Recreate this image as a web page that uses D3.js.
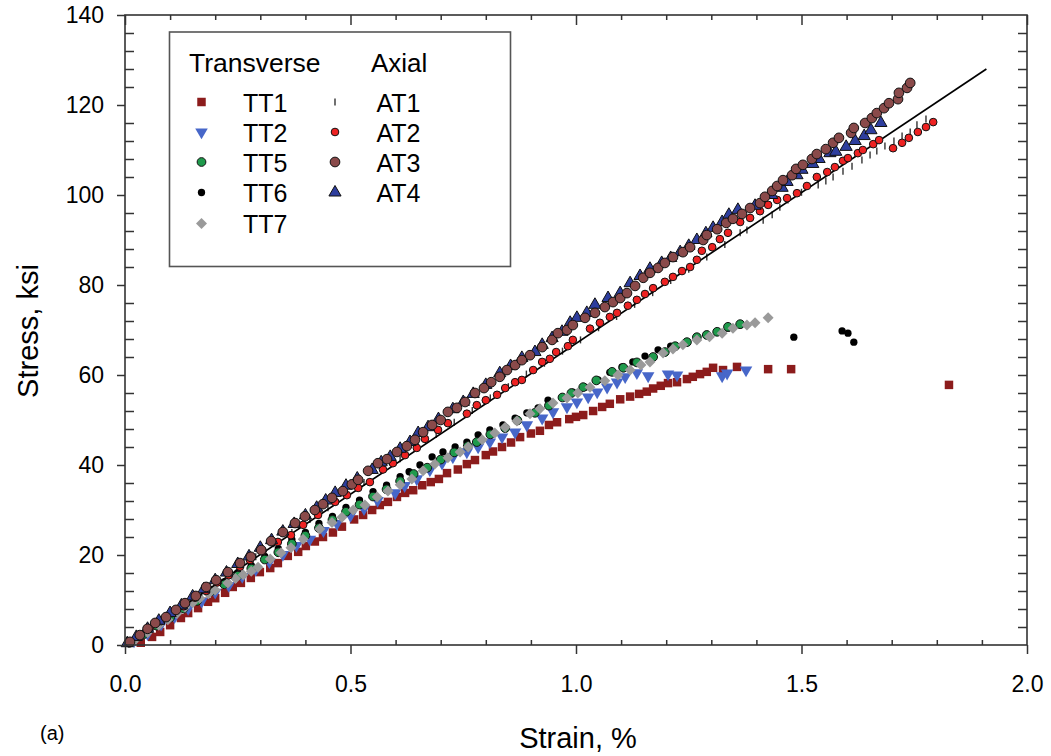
<!DOCTYPE html>
<html><head><meta charset="utf-8">
<script src="https://cdn.jsdelivr.net/npm/d3@7/dist/d3.min.js"></script>
<style>body{margin:0;background:#fff} svg{display:block} text{font-family:"Liberation Sans",Arial,Helvetica,sans-serif;fill:#000}</style>
</head><body><svg id="c" width="1051" height="756"></svg>
<script>
// ---- data: [strain %, stress ksi] ----
const TT1 = [[0.035,0.5],[0.06,1.8],[0.078,2.9],[0.10,4.4],[0.124,6.0],[0.14,7.1],[0.162,8.2],[0.184,9.6],[0.20,10.4],[0.222,11.6],[0.239,12.9],[0.257,13.8],[0.279,14.9],[0.299,16.2],[0.322,17.1],[0.339,18.2],[0.361,19.8],[0.384,20.7],[0.401,22.0],[0.421,23.0],[0.439,24.0],[0.461,25.0],[0.481,26.3],[0.508,27.9],[0.528,28.9],[0.548,30.0],[0.565,31.1],[0.583,31.8],[0.603,32.9],[0.621,33.8],[0.639,34.4],[0.659,35.5],[0.678,36.2],[0.696,36.9],[0.714,38.2],[0.738,39.0],[0.758,40.2],[0.776,41.1],[0.800,42.2],[0.816,43.0],[0.836,44.0],[0.856,45.0],[0.876,46.2],[0.900,47.0],[0.920,47.6],[0.940,48.9],[0.958,49.5],[0.985,50.2],[1.0,50.7],[1.016,51.1],[1.038,52.0],[1.058,52.9],[1.075,53.6],[1.098,54.6],[1.120,55.2],[1.140,55.8],[1.157,56.3],[1.171,57.0],[1.188,57.6],[1.204,58.2],[1.224,58.4],[1.246,59.1],[1.259,59.6],[1.275,60.2],[1.290,60.7],[1.304,61.6],[1.326,61.1],[1.357,61.8],[1.426,61.3],[1.477,61.3],[1.827,57.8]];
const TT2 = [[0.02,0.9],[0.05,2.5],[0.08,4.6],[0.11,6.3],[0.14,8.1],[0.17,9.7],[0.20,11.7],[0.23,13.2],[0.26,15.2],[0.29,16.8],[0.32,18.5],[0.35,20.1],[0.38,22.1],[0.41,23.5],[0.44,25.4],[0.47,27.0],[0.50,28.8],[0.53,30.3],[0.56,32.1],[0.599,33.8],[0.62,35.4],[0.647,36.9],[0.676,38.9],[0.703,40.4],[0.727,41.8],[0.758,42.9],[0.783,44.0],[0.809,45.1],[0.836,46.2],[0.865,47.3],[0.891,48.9],[0.925,50.4],[0.949,51.8],[0.98,52.9],[1.002,54.0],[1.027,55.1],[1.047,56.2],[1.069,57.3],[1.091,58.4],[1.109,59.6],[1.135,60.5],[1.160,59.8],[1.204,60.2],[1.224,60.0],[1.324,59.8],[1.335,60.4],[1.377,61.1]];
const TT5 = [[0.01,0.5],[0.04,2.3],[0.07,4.3],[0.10,6.1],[0.13,8.1],[0.16,9.8],[0.19,11.9],[0.22,13.5],[0.25,15.4],[0.28,17.0],[0.31,19.0],[0.34,20.6],[0.37,22.5],[0.40,24.3],[0.43,26.0],[0.46,27.8],[0.49,29.6],[0.52,31.2],[0.55,33.0],[0.58,34.6],[0.61,36.4],[0.64,38.0],[0.670,39.4],[0.70,41.2],[0.73,42.8],[0.76,44.2],[0.780,45.1],[0.81,46.8],[0.843,48.2],[0.87,49.9],[0.909,51.6],[0.94,53.2],[0.97,55.0],[0.99,56.0],[1.016,57.3],[1.045,58.8],[1.080,60.7],[1.105,61.6],[1.135,62.8],[1.171,64.0],[1.197,65.1],[1.220,66.4],[1.246,67.3],[1.268,68.4],[1.290,68.9],[1.313,69.6],[1.337,70.7],[1.364,71.3]];
const TT6 = [[0.01,0.6],[0.04,2.5],[0.07,4.6],[0.10,6.4],[0.13,8.5],[0.16,10.2],[0.19,12.3],[0.22,14.0],[0.25,16.1],[0.28,17.7],[0.31,19.7],[0.34,21.4],[0.37,23.4],[0.40,25.0],[0.43,27.0],[0.46,28.6],[0.49,30.6],[0.52,32.2],[0.55,34.1],[0.58,35.5],[0.61,37.4],[0.63,38.5],[0.654,40.0],[0.681,41.8],[0.705,42.9],[0.732,44.0],[0.758,45.1],[0.783,46.7],[0.809,47.8],[0.838,48.9],[0.865,50.4],[0.891,51.6],[0.916,52.7],[0.938,54.4],[0.969,55.1],[0.993,56.2],[1.020,57.3],[1.049,58.9],[1.075,60.6],[1.102,61.8],[1.126,62.9],[1.153,64.2],[1.182,65.6],[1.210,66.4],[1.246,67.3],[1.268,68.0],[1.290,68.9],[1.313,69.6],[1.337,70.4],[1.364,71.1],[1.483,68.4],[1.590,69.8],[1.603,69.3],[1.616,67.3]];
const TT7 = [[0.02,0.9],[0.05,2.8],[0.075,4.4],[0.095,5.6],[0.115,7.0],[0.133,8.4],[0.150,9.4],[0.166,10.4],[0.185,11.4],[0.20,12.2],[0.228,13.8],[0.245,14.8],[0.262,15.6],[0.280,16.4],[0.295,17.3],[0.322,19.1],[0.346,20.5],[0.368,21.6],[0.395,23.5],[0.432,25.8],[0.459,27.2],[0.481,28.4],[0.506,30.0],[0.532,31.1],[0.559,32.9],[0.583,34.2],[0.610,35.6],[0.636,36.9],[0.661,38.7],[0.687,40.2],[0.716,41.6],[0.743,42.9],[0.761,44.0],[0.792,45.6],[0.820,47.1],[0.843,48.4],[0.869,49.8],[0.898,51.4],[0.920,52.5],[0.949,53.8],[0.980,54.9],[1.004,56.0],[1.031,57.3],[1.064,58.7],[1.093,60.0],[1.120,61.1],[1.144,62.2],[1.164,62.9],[1.193,64.9],[1.215,65.8],[1.237,66.7],[1.268,67.8],[1.296,68.5],[1.324,69.3],[1.348,70.4],[1.379,71.1],[1.397,71.6],[1.426,72.7]];
const AT1 = [[0.01,0.6],[0.05,3.3],[0.09,6.2],[0.13,8.7],[0.17,11.7],[0.21,14.2],[0.25,17.1],[0.29,19.6],[0.33,22.5],[0.37,25.0],[0.41,27.9],[0.45,30.5],[0.49,33.4],[0.53,36.1],[0.57,38.9],[0.61,41.4],[0.65,44.2],[0.69,46.8],[0.73,49.5],[0.77,52.1],[0.81,54.9],[0.85,57.4],[0.89,60.2],[0.93,62.6],[0.97,65.3],[1.01,67.8],[1.05,70.5],[1.09,73.0],[1.13,75.7],[1.17,78.3],[1.21,81.0],[1.25,83.5],[1.29,86.2],[1.33,89.0],[1.364,91.6],[1.379,92.2],[1.415,94.4],[1.435,95.6],[1.452,97.3],[1.470,98.9],[1.50,100.6],[1.537,102.2],[1.554,103.1],[1.570,104.0],[1.592,105.3],[1.612,106.4],[1.634,107.8],[1.652,108.9],[1.667,109.8],[1.685,110.9],[1.705,112.0],[1.723,113.1],[1.741,114.0],[1.756,115.6],[1.776,116.9]];
const AT2 = [[0.008,0.4],[0.03,1.8],[0.055,3.7],[0.08,5.3],[0.105,7.1],[0.13,8.6],[0.155,10.5],[0.18,12.0],[0.205,13.9],[0.23,15.5],[0.255,17.4],[0.277,18.9],[0.305,20.9],[0.339,22.9],[0.368,24.4],[0.395,26.7],[0.428,28.9],[0.466,31.8],[0.492,33.3],[0.517,34.9],[0.543,36.2],[0.572,39.0],[0.594,40.4],[0.621,42.2],[0.647,43.8],[0.665,45.8],[0.694,47.8],[0.716,49.3],[0.758,51.4],[0.780,53.3],[0.800,54.4],[0.825,55.6],[0.843,57.1],[0.865,58.4],[0.880,58.9],[0.905,61.1],[0.925,62.9],[0.942,63.6],[0.956,65.1],[0.982,66.4],[0.993,67.8],[1.031,70.3],[1.053,71.6],[1.075,72.9],[1.091,73.8],[1.115,75.4],[1.135,76.7],[1.153,78.0],[1.171,79.3],[1.197,80.7],[1.215,81.8],[1.235,83.1],[1.253,84.0],[1.268,85.6],[1.279,87.6],[1.302,88.4],[1.319,90.2],[1.337,91.6],[1.364,94.0],[1.386,94.9],[1.408,96.4],[1.426,97.8],[1.446,98.9],[1.468,99.3],[1.490,100.4],[1.512,102.0],[1.534,104.0],[1.557,105.1],[1.574,106.2],[1.592,107.6],[1.603,108.2],[1.625,109.3],[1.636,110.0],[1.659,111.3],[1.672,112.2],[1.703,110.4],[1.723,111.6],[1.738,112.7],[1.758,114.0],[1.776,115.1],[1.792,116.2]];
const AT3 = [[0.011,0.7],[0.033,2.2],[0.050,3.6],[0.067,4.9],[0.091,6.2],[0.113,7.8],[0.133,9.3],[0.157,10.9],[0.180,12.9],[0.202,14.4],[0.228,16.2],[0.255,18.2],[0.279,19.6],[0.302,21.1],[0.324,23.1],[0.350,25.1],[0.377,27.1],[0.399,28.6],[0.421,30.0],[0.439,31.3],[0.459,32.7],[0.483,34.2],[0.503,35.7],[0.517,36.7],[0.539,38.7],[0.561,40.4],[0.581,41.3],[0.603,42.9],[0.625,44.2],[0.643,45.6],[0.661,47.3],[0.681,48.9],[0.700,50.0],[0.716,51.8],[0.736,52.7],[0.754,54.0],[0.776,56.0],[0.796,57.1],[0.812,58.4],[0.831,59.6],[0.847,61.1],[0.865,62.2],[0.880,63.3],[0.898,64.4],[0.925,66.2],[0.947,67.8],[0.960,69.3],[0.980,70.0],[0.993,71.1],[1.020,72.7],[1.042,73.8],[1.064,75.1],[1.082,76.2],[1.098,77.1],[1.113,78.2],[1.131,79.8],[1.149,81.6],[1.164,82.7],[1.182,83.8],[1.197,84.9],[1.215,86.2],[1.237,87.3],[1.253,88.4],[1.282,90.0],[1.290,91.1],[1.313,92.4],[1.333,93.8],[1.348,94.7],[1.368,95.8],[1.386,97.1],[1.408,98.2],[1.419,99.6],[1.435,100.9],[1.446,102.0],[1.459,103.3],[1.479,104.4],[1.488,105.8],[1.503,106.7],[1.523,108.0],[1.534,109.1],[1.554,110.2],[1.570,111.6],[1.583,112.7],[1.610,113.8],[1.616,114.9],[1.641,116.0],[1.656,117.1],[1.667,118.2],[1.683,119.3],[1.694,120.4],[1.714,121.3],[1.716,122.7],[1.734,123.8],[1.741,124.9]];
const AT4 = [[0.005,0.4],[0.025,1.8],[0.05,3.6],[0.075,5.4],[0.10,7.1],[0.125,8.8],[0.15,10.8],[0.175,12.4],[0.20,14.4],[0.225,16.1],[0.25,18.0],[0.275,19.7],[0.30,21.6],[0.325,23.3],[0.35,25.2],[0.375,26.9],[0.40,28.8],[0.425,30.5],[0.445,32.1],[0.466,33.8],[0.49,35.4],[0.515,37.0],[0.548,38.9],[0.568,40.6],[0.588,41.8],[0.610,43.6],[0.632,45.1],[0.650,47.1],[0.672,48.4],[0.695,50.2],[0.727,52.4],[0.750,54.0],[0.772,55.8],[0.80,57.8],[0.831,60.4],[0.855,62.0],[0.880,63.8],[0.909,65.1],[0.925,66.7],[0.947,68.2],[0.969,69.6],[0.987,71.6],[1.002,72.7],[1.024,73.8],[1.042,75.6],[1.071,77.1],[1.098,78.2],[1.120,80.4],[1.142,82.0],[1.164,83.6],[1.190,84.9],[1.210,86.0],[1.231,87.3],[1.250,88.7],[1.268,90.0],[1.288,91.5],[1.304,92.7],[1.324,94.0],[1.339,95.6],[1.359,96.7],[1.397,97.6],[1.434,100.0],[1.457,101.6],[1.468,102.9],[1.490,104.4],[1.501,105.6],[1.525,106.9],[1.539,108.0],[1.563,109.3],[1.576,109.6],[1.599,110.7],[1.619,112.0],[1.639,113.1],[1.654,114.4],[1.676,116.0]];
const fitLine = [[0,0],[1.91,128]];

const xTickValues = [0, 0.5, 1.0, 1.5, 2.0];
const yTickValues = [0, 20, 40, 60, 80, 100, 120, 140];
const transverseLabels = ["TT1","TT2","TT5","TT6","TT7"];
const axialLabels = ["AT1","AT2","AT3","AT4"];

// ---- chart ----
const svg = d3.select("#c");
const x = d3.scaleLinear().domain([0, 2]).range([125, 1027]);
const y = d3.scaleLinear().domain([0, 140]).range([645, 15]);
const AX = "#333";

const styles = {
  TT1:{shape:d3.symbolSquare, size:72, fill:"#8c1c1c", stroke:"none", sw:0, rot:0},
  TT2:{shape:d3.symbolTriangle, size:68, fill:"#4767c9", stroke:"none", sw:0, rot:180},
  TT5:{shape:d3.symbolCircle, size:60, fill:"#1f9a4c", stroke:"#111", sw:1, rot:0},
  TT6:{shape:d3.symbolCircle, size:42, fill:"#000", stroke:"none", sw:0, rot:0},
  TT7:{shape:d3.symbolSquare, size:60, fill:"#9a9a9a", stroke:"none", sw:0, rot:45},
  AT1:{dash:true},
  AT2:{shape:d3.symbolCircle, size:46, fill:"#ee2222", stroke:"#111", sw:1, rot:0},
  AT3:{shape:d3.symbolCircle, size:74, fill:"#8a4a4a", stroke:"#111", sw:1, rot:0},
  AT4:{shape:d3.symbolTriangle, size:64, fill:"#2e3e9e", stroke:"#111", sw:1, rot:0}
};

function drawMarkers(g, name, data, px, py){
  const st = styles[name];
  if (st.dash){
    g.selectAll(null).data(data).enter().append("line")
      .attr("x1", d => px(d)).attr("x2", d => px(d))
      .attr("y1", d => py(d) - 3.5).attr("y2", d => py(d) + 3.5)
      .attr("stroke", "#333").attr("stroke-width", 1.4);
    return;
  }
  const sym = d3.symbol().type(st.shape).size(st.size);
  g.selectAll(null).data(data).enter().append("path")
    .attr("d", sym)
    .attr("transform", d => `translate(${px(d)},${py(d)}) rotate(${st.rot})`)
    .attr("fill", st.fill)
    .attr("stroke", st.stroke)
    .attr("stroke-width", st.sw);
}

const plot = svg.append("g");
const series = {TT1, TT2, TT5, TT6, TT7, AT1, AT2, AT3, AT4};
const order = ["TT1","TT2","TT6","TT5","TT7","AT1"];
order.forEach(n => drawMarkers(plot.append("g"), n, series[n], d => x(d[0]), d => y(d[1])));
plot.append("path").datum(fitLine)
  .attr("d", d3.line().x(d => x(d[0])).y(d => y(d[1])))
  .attr("fill","none").attr("stroke","#000").attr("stroke-width",1.7);
["AT2","AT4","AT3"].forEach(n => drawMarkers(plot.append("g"), n, series[n], d => x(d[0]), d => y(d[1])));

// ---- axes ----
function styleAxis(g){
  g.select(".domain").remove();
  g.selectAll(".tick line").attr("stroke", AX).attr("stroke-width", 1.5);
  g.selectAll(".tick text").attr("font-size", 23).attr("fill","#000")
    .attr("font-family",'"Liberation Sans",Arial,sans-serif');
}
const xMinor = d3.range(1, 20).map(i => i / 10).filter(v => Math.abs(v*2 - Math.round(v*2)) > 1e-6);
const yMinor = d3.range(4, 140, 4).filter(v => v % 20 !== 0);
const yAll = d3.range(4, 140, 4);

svg.append("g").attr("transform","translate(0,645)")
  .call(d3.axisBottom(x).tickValues(xTickValues).tickFormat(d3.format(".1f")).tickSize(9).tickPadding(22).tickSizeOuter(0))
  .call(styleAxis);
svg.append("g").attr("transform","translate(0,645)")
  .call(d3.axisBottom(x).tickValues(xMinor).tickFormat("").tickSize(-5).tickSizeOuter(0))
  .call(styleAxis);
svg.append("g").attr("transform","translate(125,0)")
  .call(d3.axisLeft(y).tickValues(yTickValues).tickSize(8).tickPadding(13).tickSizeOuter(0))
  .call(styleAxis);
svg.append("g").attr("transform","translate(125,0)")
  .call(d3.axisLeft(y).tickValues(yMinor).tickFormat("").tickSize(-9).tickSizeOuter(0))
  .call(styleAxis);
svg.append("g").attr("transform","translate(0,15)")
  .call(d3.axisTop(x).tickValues(xMinor).tickFormat("").tickSize(-5).tickSizeOuter(0))
  .call(styleAxis);
svg.append("g").attr("transform","translate(0,15)")
  .call(d3.axisTop(x).tickValues(xTickValues).tickFormat("").tickSize(-10).tickSizeOuter(0))
  .call(styleAxis);
svg.append("g").attr("transform","translate(1027,0)")
  .call(d3.axisRight(y).tickValues(yAll).tickFormat("").tickSize(-9).tickSizeOuter(0))
  .call(styleAxis);
svg.append("rect").attr("x",125).attr("y",15).attr("width",902).attr("height",630)
  .attr("fill","none").attr("stroke",AX).attr("stroke-width",1.6);

// axis titles
svg.append("text").attr("x",578).attr("y",748).attr("text-anchor","middle")
  .attr("font-size",29).text("Strain, %");
svg.append("text").attr("transform","translate(38,331) rotate(-90)").attr("text-anchor","middle")
  .attr("font-size",29).text("Stress, ksi");
svg.append("text").attr("x",40).attr("y",740).attr("font-size",20).text("(a)");

// ---- legend ----
const lg = svg.append("g");
lg.append("rect").attr("x",169.5).attr("y",32).attr("width",341).attr("height",234.5)
  .attr("fill","#fff").attr("stroke","#555").attr("stroke-width",1.6);
lg.append("text").attr("x",189).attr("y",71.5).attr("font-size",26.5).text("Transverse");
lg.append("text").attr("x",371).attr("y",71.5).attr("font-size",26).text("Axial");
const rowY = [111.5, 141.5, 171.5, 202, 233];
transverseLabels.forEach((n,i) => {
  drawMarkers(lg.append("g"), n, [0], () => 201.5, () => rowY[i] - 9.5);
  lg.append("text").attr("x",243).attr("y",rowY[i]).attr("font-size",25).text(n);
});
axialLabels.forEach((n,i) => {
  drawMarkers(lg.append("g"), n, [0], () => 335, () => rowY[i] - 9.5);
  lg.append("text").attr("x",376.5).attr("y",rowY[i]).attr("font-size",25).text(n);
});
</script></body></html>
